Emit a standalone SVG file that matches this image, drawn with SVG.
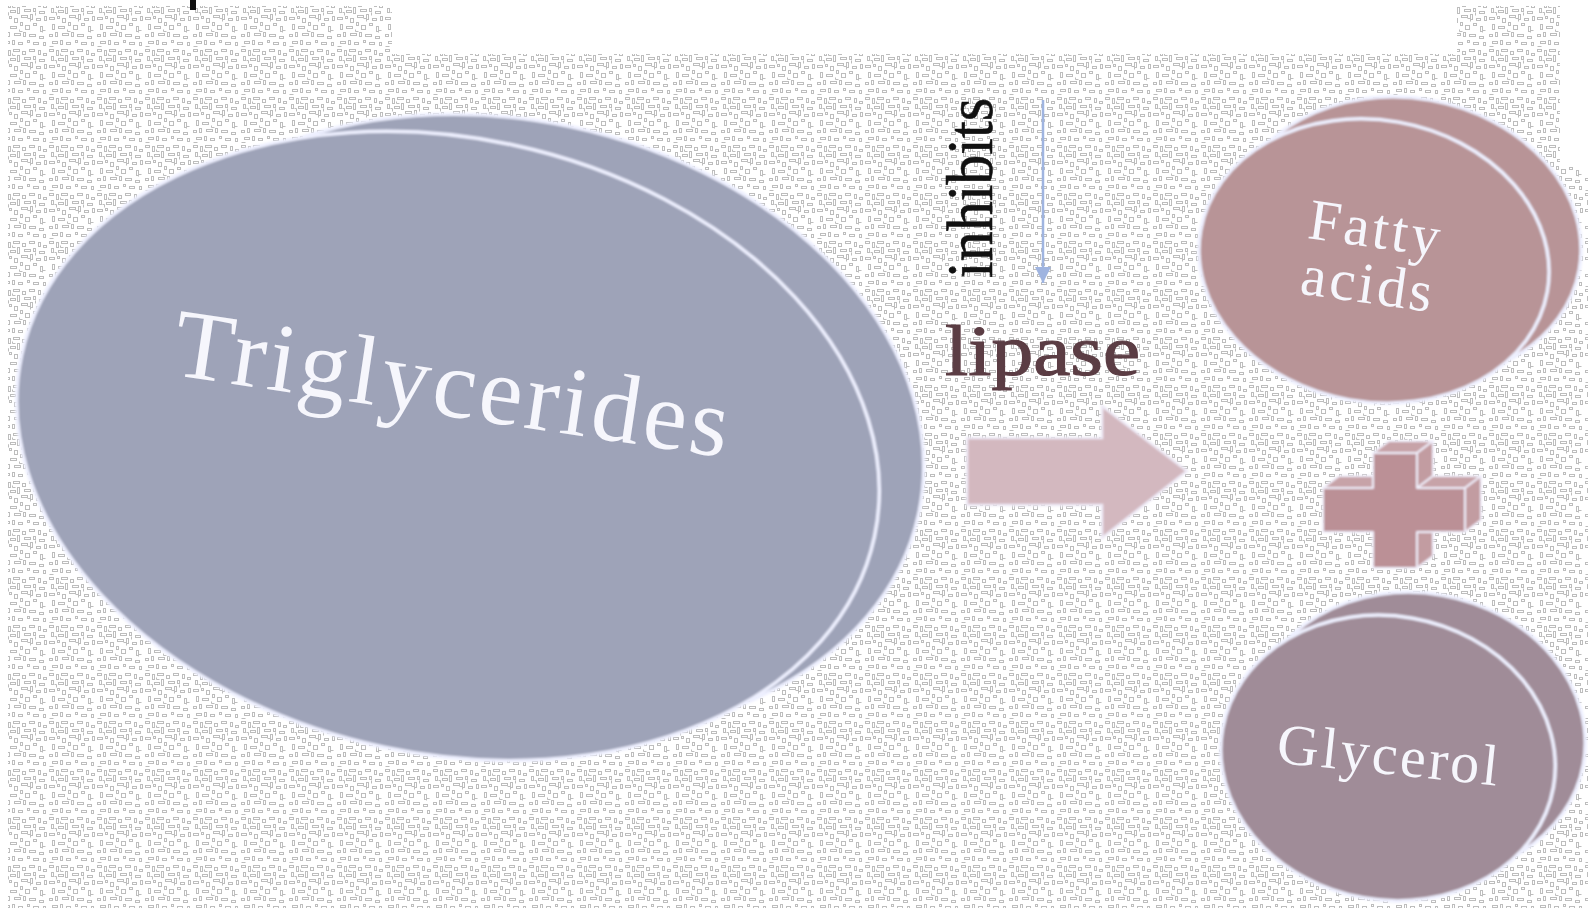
<svg xmlns="http://www.w3.org/2000/svg" width="1588" height="910" viewBox="0 0 1588 910">
  <defs>
    <!-- speckled maze-like backdrop texture -->
    <pattern id="speckle" width="48" height="48" patternUnits="userSpaceOnUse">
      <rect width="48" height="48" fill="#ffffff"/>
      <g fill="none" stroke="#bdbdbd" stroke-width="1">
        <rect x="1.5" y="1.5" width="4" height="2"/>
        <rect x="8.5" y="2.5" width="2" height="5"/>
        <rect x="13.5" y="1.5" width="6" height="2"/>
        <rect x="22.5" y="3.5" width="3" height="3"/>
        <rect x="29.5" y="1.5" width="5" height="2"/>
        <rect x="38.5" y="2.5" width="2" height="4"/>
        <rect x="43.5" y="5.5" width="3" height="2"/>
        <rect x="3.5" y="8.5" width="2" height="4"/>
        <rect x="10.5" y="10.5" width="5" height="2"/>
        <rect x="17.5" y="7.5" width="2" height="6"/>
        <rect x="24.5" y="9.5" width="6" height="2"/>
        <rect x="33.5" y="8.5" width="2" height="3"/>
        <rect x="39.5" y="11.5" width="5" height="2"/>
        <rect x="1.5" y="17.5" width="5" height="2"/>
        <rect x="9.5" y="16.5" width="2" height="2"/>
        <rect x="14.5" y="18.5" width="3" height="4"/>
        <rect x="21.5" y="15.5" width="6" height="2"/>
        <rect x="30.5" y="14.5" width="2" height="5"/>
        <rect x="36.5" y="18.5" width="4" height="2"/>
        <rect x="44.5" y="16.5" width="2" height="4"/>
        <rect x="4.5" y="24.5" width="2" height="5"/>
        <rect x="10.5" y="26.5" width="6" height="2"/>
        <rect x="20.5" y="22.5" width="2" height="3"/>
        <rect x="25.5" y="25.5" width="4" height="4"/>
        <rect x="33.5" y="23.5" width="3" height="2"/>
        <rect x="40.5" y="26.5" width="2" height="5"/>
        <rect x="1.5" y="34.5" width="3" height="2"/>
        <rect x="7.5" y="32.5" width="2" height="4"/>
        <rect x="14.5" y="33.5" width="6" height="2"/>
        <rect x="23.5" y="32.5" width="2" height="4"/>
        <rect x="29.5" y="34.5" width="6" height="2"/>
        <rect x="39.5" y="36.5" width="4" height="2"/>
        <rect x="4.5" y="41.5" width="5" height="2"/>
        <rect x="12.5" y="40.5" width="2" height="4"/>
        <rect x="18.5" y="42.5" width="4" height="2"/>
        <rect x="27.5" y="40.5" width="2" height="2"/>
        <rect x="33.5" y="42.5" width="5" height="2"/>
        <rect x="43.5" y="42.5" width="2" height="3"/>
        <path d="M12.5 5.5 v2 h3 M27.5 18.5 h3 v3 M6.5 12.5 h2 v3 M19.5 29.5 v2 h3 M35.5 12.5 v3 M45.5 30.5 h-3 v2 M1.5 46.5 h4"/>
      </g>
    </pattern>
    <filter id="soft" x="-5%" y="-5%" width="110%" height="110%">
      <feGaussianBlur stdDeviation="1.1"/>
    </filter>
    <marker id="head" viewBox="0 0 10 10" refX="10" refY="5" markerWidth="16" markerHeight="20" markerUnits="userSpaceOnUse" orient="auto">
      <path d="M0 0 L10 5 L0 10 Z" fill="#9fb4e0"/>
    </marker>
    <style>
      .edge { stroke: #eef0ff; stroke-width: 3.5; }
      .lbl { font-family: "Liberation Serif", "Times New Roman", serif; }
      .white { fill: #f6f6fc; }
    </style>
  </defs>

  <!-- backdrop -->
  <rect width="1588" height="910" fill="#ffffff"/>
  <path d="M8 6 H392 V54 H1457 V6 H1560 V167 H1588 V908 H8 Z" fill="url(#speckle)"/>
  <rect x="190" y="0" width="6" height="10" fill="#111111"/>

  <!-- Triglycerides -->
  <g id="triglycerides">
    <g filter="url(#soft)">
      <ellipse cx="508" cy="426" rx="420" ry="306" transform="rotate(12 508 426)" fill="#9ea3b8" class="edge"/>
      <ellipse cx="448" cy="446" rx="436" ry="308" transform="rotate(12 448 446)" fill="#9ea3b8" class="edge"/>
    </g>
    <text class="lbl white" x="0" y="0" font-size="98" text-anchor="middle" textLength="560" lengthAdjust="spacing" transform="translate(447 416) rotate(8.5)">Triglycerides</text>
  </g>

  <!-- Fatty acids -->
  <g id="fatty-acids">
    <g filter="url(#soft)">
      <ellipse cx="1406" cy="239" rx="176" ry="141" transform="rotate(10 1406 239)" fill="#b89497" class="edge"/>
      <ellipse cx="1374" cy="261" rx="176" ry="141" transform="rotate(10 1374 261)" fill="#b89497" class="edge"/>
    </g>
    <g class="lbl white" font-size="58" text-anchor="middle" transform="translate(1368 275) rotate(8)">
      <text x="0" y="-28" textLength="132" lengthAdjust="spacing">Fatty</text>
      <text x="0" y="28" textLength="132" lengthAdjust="spacing">acids</text>
    </g>
  </g>

  <!-- Glycerol -->
  <g id="glycerol">
    <g filter="url(#soft)">
      <ellipse cx="1418" cy="735" rx="168" ry="142" transform="rotate(10 1418 735)" fill="#a08c98" class="edge"/>
      <ellipse cx="1388" cy="758" rx="168" ry="142" transform="rotate(10 1388 758)" fill="#a08c98" class="edge"/>
    </g>
    <text class="lbl white" x="0" y="0" font-size="58" text-anchor="middle" textLength="222" lengthAdjust="spacing" transform="translate(1386 774) rotate(6)">Glycerol</text>
  </g>

  <!-- plus sign -->
  <g id="plus" filter="url(#soft)" stroke="#f0eefa" stroke-width="2" stroke-linejoin="round">
    <polygon points="1373,453 1389,441 1433,441 1417,453" fill="#c7a3a8"/>
    <polygon points="1417,453 1433,441 1433,476 1417,488" fill="#c29ca1"/>
    <polygon points="1323,488 1339,476 1373,476 1373,488" fill="#c7a3a8"/>
    <polygon points="1417,488 1433,476 1481,476 1465,488" fill="#c7a3a8"/>
    <polygon points="1465,488 1481,476 1481,520 1465,532" fill="#c29ca1"/>
    <polygon points="1417,532 1433,532 1433,556 1417,568" fill="#c29ca1"/>
    <path d="M1373 453 H1417 V488 H1465 V532 H1417 V568 H1373 V532 H1323 V488 H1373 Z" fill="#bb9096"/>
  </g>

  <!-- lipase reaction -->
  <g id="lipase">
    <path d="M967 438 H1102 V406 L1187 471 L1102 538 V505 H967 Z" fill="#d3b8bf" stroke="#eeeaf6" stroke-width="2.5" filter="url(#soft)"/>
    <text class="lbl" x="945" y="375" font-size="72" fill="#5b3d44" textLength="195" lengthAdjust="spacingAndGlyphs" stroke="#5b3d44" stroke-width="1.2">lipase</text>
  </g>

  <!-- inhibits label -->
  <g id="inhibits">
    <text class="lbl" x="0" y="0" font-size="66" fill="#111111" stroke="#111111" stroke-width="0.6" textLength="180" lengthAdjust="spacingAndGlyphs" transform="translate(992 278) rotate(-90)">inhibits</text>
  </g>

  <!-- connectors -->
  <g id="connectors">
    <line x1="1043" y1="100" x2="1043" y2="283" stroke="#9fb4e0" stroke-width="2.5" marker-end="url(#head)"/>
  </g>
</svg>
